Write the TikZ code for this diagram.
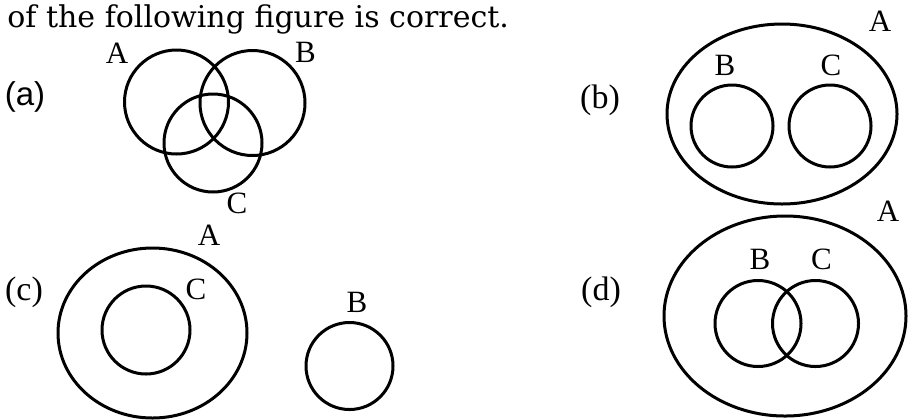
\documentclass[tikz,border=0pt]{standalone}
\usepackage{fontspec}
\setmainfont{Liberation Serif}
\newfontfamily\headfont{DejaVu Serif}
\newfontfamily\asans{Liberation Sans}
\begin{document}
\begin{tikzpicture}[x=0.5pt,y=-0.5pt,
  setline/.style={line width=1.5pt,draw=black},
  lbl/.style={inner sep=0pt,font=\fontsize{15.5pt}{17pt}\selectfont},
  tag/.style={inner sep=0pt,font=\fontsize{17pt}{19pt}\selectfont}]
\useasboundingbox (0,0) rectangle (908,419);
% header
\node[anchor=base west,inner sep=0pt,font=\headfont\fontsize{15pt}{18pt}\selectfont] (head) at (7,27) {of the following figure is correct.};
% (a)
\node[tag,font=\asans\fontsize{16.5pt}{18pt}\selectfont] (ta) at (25,97) {(a)};
\draw[setline] (176.5,102) circle[radius=52];
\draw[setline] (252.5,103) circle[radius=52.5];
\draw[setline] (213,143) circle[radius=49];
\node[lbl] (aA) at (117,53) {A};
\node[lbl] (aB) at (305.5,52.5) {B};
\node[lbl] (aC) at (237,203) {C};
% (b)
\node[tag] (tb) at (600,100) {(b)};
\draw[setline] (782,114) ellipse[x radius=115,y radius=90];
\draw[setline] (732,126) circle[radius=41];
\draw[setline] (830,126) circle[radius=41];
\node[lbl] (bA) at (880,21) {A};
\node[lbl] (bB) at (725,65) {B};
\node[lbl] (bC) at (831,65) {C};
% (c)
\node[tag] (tc) at (24,292) {(c)};
\draw[setline] (152.5,333) ellipse[x radius=94.5,y radius=85];
\draw[setline] (146,330) circle[radius=44];
\draw[setline] (349.5,366) circle[radius=43.5];
\node[lbl] (cA) at (209,235) {A};
\node[lbl] (cC) at (196,289) {C};
\node[lbl] (cB) at (357,302) {B};
% (d)
\node[tag] (td) at (601,292) {(d)};
\draw[setline] (785,316) ellipse[x radius=121,y radius=100];
\draw[setline] (758,323.5) circle[radius=43];
\draw[setline] (815.5,323.5) circle[radius=43];
\node[lbl] (dA) at (888,211) {A};
\node[lbl] (dB) at (760,259) {B};
\node[lbl] (dC) at (821.5,259) {C};
\end{tikzpicture}
\end{document}
